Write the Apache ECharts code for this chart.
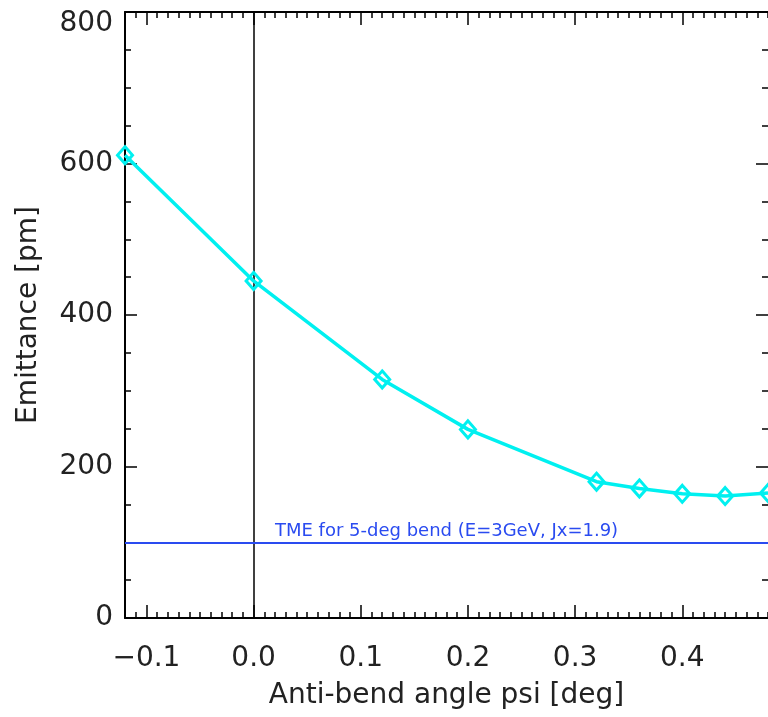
<!DOCTYPE html>
<html>
<head>
<meta charset="utf-8">
<script src="https://cdn.jsdelivr.net/npm/echarts@6/dist/echarts.min.js"></script>
<style>
html,body{margin:0;padding:0;background:#fff;}
#chart{width:768px;height:717px;}
</style>
</head>
<body>
<div id="chart"></div>
<script>
// Data
var psi = [-0.12, 0.0, 0.12, 0.2, 0.32, 0.36, 0.4, 0.44, 0.48];
var emittance = [611, 445, 315, 249, 180, 171, 164, 161, 165];
var xMajorTicks = [-0.1, 0.0, 0.1, 0.2, 0.3, 0.4];
var yTicks = [0, 200, 400, 600, 800];
var tmeValue = 100;
var tmeLabel = 'TME for 5-deg bend (E=3GeV, Jx=1.9)';
var xTitle = 'Anti-bend angle psi [deg]';
var yTitle = 'Emittance [pm]';

var FONT = 'DejaVu Sans';
var TXT = '#222';

function fmtX(v) {
  var s = Math.abs(v).toFixed(1);
  return (v < -1e-9 ? '\u2212' : '') + s;
}

var chart = echarts.init(document.getElementById('chart'), null, {renderer: 'canvas'});

var xBase = {type: 'value', min: -0.12, max: 0.48, splitLine: {show: false}};
var axLine = {show: true, onZero: false, lineStyle: {color: '#000', width: 2}};
var tickStyle = {color: '#000', width: 1.5};

var option = {
  animation: false,
  backgroundColor: '#fff',
  grid: {left: 125, top: 12, right: -3, bottom: 99, containLabel: false},
  xAxis: [
    Object.assign({}, xBase, {
      position: 'bottom', interval: 0.01,
      axisLine: axLine,
      axisTick: {show: true, inside: true, length: 6, lineStyle: tickStyle},
      axisLabel: {show: true, customValues: xMajorTicks, formatter: fmtX, margin: 27,
        fontFamily: FONT, fontSize: 28, color: TXT},
      name: xTitle, nameLocation: 'middle', nameGap: 64,
      nameTextStyle: {fontFamily: FONT, fontSize: 28, color: TXT}
    }),
    Object.assign({}, xBase, {
      position: 'bottom',
      axisLine: {show: false, onZero: false},
      axisTick: {show: true, inside: true, length: 13, customValues: xMajorTicks, lineStyle: tickStyle},
      axisLabel: {show: false}
    }),
    Object.assign({}, xBase, {
      position: 'top', interval: 0.01,
      axisLine: axLine,
      axisTick: {show: true, inside: true, length: 6, lineStyle: tickStyle},
      axisLabel: {show: false}
    }),
    Object.assign({}, xBase, {
      position: 'top',
      axisLine: {show: false, onZero: false},
      axisTick: {show: true, inside: true, length: 13, customValues: xMajorTicks, lineStyle: tickStyle},
      axisLabel: {show: false}
    })
  ],
  yAxis: [
    {
      type: 'value', min: 0, max: 800, interval: 200, position: 'left',
      splitLine: {show: false},
      axisLine: axLine,
      axisTick: {show: true, inside: true, length: 12, lineStyle: tickStyle},
      minorTick: {show: true, splitNumber: 4, length: 6, lineStyle: tickStyle},
      axisLabel: {show: true, margin: 12, fontFamily: FONT, fontSize: 28, color: TXT,
        formatter: function (v) { return v === 800 ? '{t|' + v + '}' : String(v); },
        rich: {t: {fontFamily: FONT, fontSize: 28, color: TXT, padding: [24, 0, 0, 0]}}},
      name: yTitle, nameLocation: 'middle', nameGap: 82,
      nameTextStyle: {fontFamily: FONT, fontSize: 28, color: TXT}
    },
    {
      type: 'value', min: 0, max: 800, interval: 200, position: 'right',
      splitLine: {show: false},
      axisLine: {show: false, onZero: false},
      axisTick: {show: true, inside: true, length: 12, lineStyle: tickStyle},
      minorTick: {show: true, splitNumber: 4, length: 6, lineStyle: tickStyle},
      axisLabel: {show: false}
    }
  ],
  series: [
    {
      type: 'line',
      xAxisIndex: 0, yAxisIndex: 0,
      data: [],
      silent: true,
      markLine: {
        silent: true, symbol: 'none',
        data: [
          {xAxis: 0, lineStyle: {color: '#000', width: 1.5, type: 'solid'}, label: {show: false}},
          {yAxis: tmeValue, lineStyle: {color: '#2a4bf0', width: 2, type: 'solid'},
            label: {show: true, position: 'insideStartTop', formatter: tmeLabel,
              fontFamily: FONT, fontSize: 18, color: '#2a4bf0', padding: [0, 0, 0, 148], distance: 2}}
        ]
      }
    },
    {
      type: 'line',
      xAxisIndex: 0, yAxisIndex: 0,
      data: psi.map(function (x, i) { return [x, emittance[i]]; }),
      symbol: 'diamond', symbolSize: [15, 17],
      lineStyle: {color: '#00f0f0', width: 3.5},
      itemStyle: {color: 'rgba(0,0,0,0)', borderColor: '#00f0f0', borderWidth: 3},
      clip: false, z: 5
    }
  ]
};
chart.setOption(option);
</script>
</body>
</html>
